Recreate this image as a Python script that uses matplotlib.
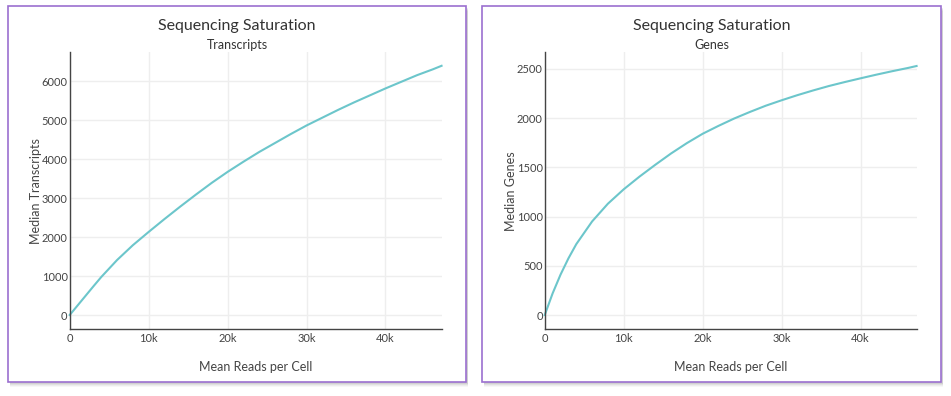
# sequencing saturation: median transcripts / genes vs mean reads per cell
import matplotlib.pyplot as plt
from matplotlib.patches import Rectangle
from matplotlib.ticker import FuncFormatter

plt.rcParams['font.family'] = ['Lato', 'DejaVu Sans']

reads = [0, 1000, 2000, 3000, 4000, 6000, 8000, 10000, 12000, 14000, 16000, 18000, 20000,
         22000, 24000, 26000, 28000, 30000, 32000, 34000, 36000, 38000, 40000,
         42000, 44000, 46000, 47100]
transcripts = [0, 245, 490, 735, 975, 1410, 1790, 2130, 2460, 2780, 3090, 3390, 3670,
               3930, 4180, 4410, 4640, 4860, 5060, 5260, 5450, 5630, 5810,
               5980, 6150, 6300, 6390]
genes = [0, 220, 410, 575, 720, 950, 1130, 1276, 1405, 1525, 1640, 1745, 1840,
         1920, 1995, 2062, 2125, 2180, 2232, 2280, 2325, 2365, 2403,
         2440, 2475, 2508, 2528]

line_color = "#6cc6cb"
text_color = "#444444"

fig = plt.figure(figsize=(9.51, 3.96), dpi=100)
W, H = 951, 396


def box(x0, y0, x1, y1):
    # soft shadow then the purple frame, both under the axes
    for i, a in enumerate([0.07, 0.05, 0.04, 0.03]):
        d = 2 + i
        fig.patches.append(Rectangle((x0 / W + 2 / W, 1 - (y1 + d) / H), (x1 - x0) / W, (y1 - y0) / H,
                                     transform=fig.transFigure, facecolor="black", alpha=a,
                                     edgecolor="none", zorder=-3))
    fig.patches.append(Rectangle((x0 / W, 1 - y1 / H), (x1 - x0) / W, (y1 - y0) / H,
                                 transform=fig.transFigure, facecolor="white",
                                 edgecolor="#9b6fcf", linewidth=1.2, zorder=-2))


def kfmt(v, pos):
    return "0" if v == 0 else "%dk" % (v / 1000)


def panel(left, px0, px1, y, subtitle, ylabel, ylim, yticks):
    ax = fig.add_axes([left, 0.1684, 0.391, 0.6995])
    ax.set_facecolor("none")
    ax.plot(reads, y, color=line_color, linewidth=1.5, clip_on=False)
    ax.set_xlim(0, 47100)
    ax.set_ylim(*ylim)
    ax.set_xticks([0, 10000, 20000, 30000, 40000])
    ax.xaxis.set_major_formatter(FuncFormatter(kfmt))
    ax.set_yticks(yticks)
    ax.grid(color="#eeeeee", linewidth=1)
    ax.set_axisbelow(True)
    for s in ["top", "right"]:
        ax.spines[s].set_visible(False)
    for s in ["left", "bottom"]:
        ax.spines[s].set_color("#444444")
        ax.spines[s].set_linewidth(1)
    ax.tick_params(axis="x", length=0, labelsize=8, colors=text_color, pad=3)
    ax.tick_params(axis="y", length=0, labelsize=8, colors=text_color, pad=1.5)
    ax.set_xlabel("Mean Reads per Cell", fontsize=9, color=text_color, labelpad=12)
    ax.set_ylabel(ylabel, fontsize=9, color=text_color, labelpad=0)
    cx = (px0 + px1) / 2 / W
    fig.text(cx, 1 - 26 / H, "Sequencing Saturation", ha="center", va="center",
             fontsize=11.5, color="#333333")
    fig.text(cx, 1 - 45 / H, subtitle, ha="center", va="center",
             fontsize=9, color="#333333")
    return ax


box(8, 6, 466, 382)
box(482, 6, 941, 382)

panel(0.0733, 8, 466, transcripts, "Transcripts", "Median Transcripts",
      (-367, 6736), [0, 1000, 2000, 3000, 4000, 5000, 6000])
panel(0.5728, 482, 941, genes, "Genes", "Median Genes",
      (-145, 2667), [0, 500, 1000, 1500, 2000, 2500])

plt.savefig("out.png", dpi=100)
